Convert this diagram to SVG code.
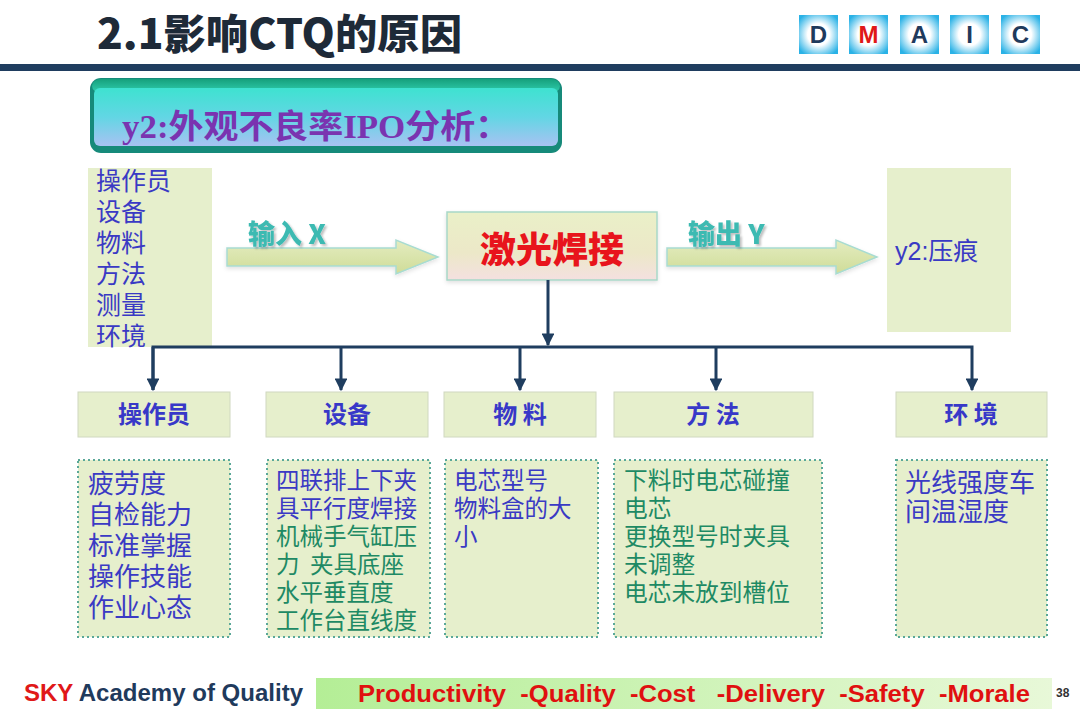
<svg xmlns="http://www.w3.org/2000/svg" width="1080" height="709" viewBox="0 0 1080 709">
<defs>
<style>
.cjk{font-family:"Noto Sans CJK SC","Liberation Sans",sans-serif;}
.blue{fill:#3a3ac4;}
.green{fill:#1e8a64;}
.pale{fill:#e6efcc;}
.cat{fill:#e6efcc;stroke:#d0d8c0;stroke-width:1;}
.det{fill:#e6efcc;stroke:#5aa898;stroke-width:2;stroke-dasharray:2 3;}
.catt{font-family:"Noto Sans CJK SC",sans-serif;font-weight:bold;font-size:24px;fill:#3838c8;text-anchor:middle;}
.dm{font-family:"Liberation Sans",Arial,sans-serif;font-weight:bold;font-size:24px;fill:#1f3a5c;text-anchor:middle;}
.conn{stroke:#1f3d5f;stroke-width:3;fill:none;}
.arrowtxt{font-family:"Noto Sans CJK SC","Liberation Sans",sans-serif;font-weight:900;font-size:27px;fill:#3cbab2;}
</style>
<radialGradient id="dmg" cx="0.5" cy="0.5" r="0.62">
<stop offset="0.45" stop-color="#ffffff"/>
<stop offset="1" stop-color="#2ab2e6"/>
</radialGradient>
<linearGradient id="hdr" x1="0" y1="0" x2="0" y2="1">
<stop offset="0" stop-color="#3ee2d0"/>
<stop offset="0.5" stop-color="#62d6e4"/>
<stop offset="1" stop-color="#a8c2f2"/>
</linearGradient>
<linearGradient id="hdrTop" x1="0" y1="0" x2="0" y2="1">
<stop offset="0" stop-color="#16a07c"/>
<stop offset="1" stop-color="#30d0b0"/>
</linearGradient>
<linearGradient id="arr" x1="0" y1="0" x2="0" y2="1">
<stop offset="0" stop-color="#e4ecc0"/>
<stop offset="1" stop-color="#cfdc98"/>
</linearGradient>
<linearGradient id="ctr" x1="0" y1="0" x2="0" y2="1">
<stop offset="0" stop-color="#eaf0c8"/>
<stop offset="0.6" stop-color="#ece8c8"/>
<stop offset="1" stop-color="#f4e0e0"/>
</linearGradient>
<linearGradient id="foot" x1="0" y1="0" x2="1" y2="0">
<stop offset="0" stop-color="#b4ee96"/>
<stop offset="1" stop-color="#e8f8d8"/>
</linearGradient>
<filter id="sh" x="-10%" y="-20%" width="130%" height="150%">
<feDropShadow dx="2" dy="2" stdDeviation="1.2" flood-color="#000" flood-opacity="0.25"/>
</filter>
<filter id="soft" x="-5%" y="-10%" width="110%" height="125%">
<feDropShadow dx="0" dy="2" stdDeviation="2" flood-color="#000" flood-opacity="0.12"/>
</filter>
<marker id="ah" viewBox="0 0 10 10" refX="9" refY="5" markerWidth="4.3" markerHeight="4.3" orient="auto" markerUnits="strokeWidth">
<path d="M0,0 L10,5 L0,10 z" fill="#1f3d5f"/>
</marker>
</defs>

<rect width="1080" height="709" fill="#ffffff"/>

<g id="title">
<text x="97" y="49" class="cjk" font-weight="900" font-size="41" fill="#1e2a38" textLength="365" lengthAdjust="spacingAndGlyphs">2.1影响CTQ的原因</text>
<rect x="0" y="64" width="1080" height="7" fill="#1f3d5f"/>
</g>

<g id="dmaic">
<rect x="799" y="15" width="39" height="39" fill="url(#dmg)"/>
<rect x="849" y="15" width="39" height="39" fill="url(#dmg)"/>
<rect x="900" y="15" width="39" height="39" fill="url(#dmg)"/>
<rect x="950" y="15" width="39" height="39" fill="url(#dmg)"/>
<rect x="1001" y="15" width="39" height="39" fill="url(#dmg)"/>
<text x="818.5" y="43" class="dm">D</text>
<text x="868.5" y="43" class="dm" style="fill:#e01818">M</text>
<text x="919.5" y="43" class="dm">A</text>
<text x="969.5" y="43" class="dm">I</text>
<text x="1020.5" y="43" class="dm">C</text>
</g>

<g id="header">
<rect x="90" y="78" width="472" height="75" rx="11" fill="#168a7a"/>
<rect x="92" y="79" width="468" height="14" rx="9" fill="url(#hdrTop)"/>
<rect x="94" y="88" width="464" height="58" rx="6" fill="url(#hdr)"/>
<text x="122" y="138" font-family="'Liberation Serif','Noto Sans CJK SC',serif" font-weight="bold" font-size="33" fill="#7a34b0" textLength="388" lengthAdjust="spacingAndGlyphs">y2:外观不良率IPO分析：</text>
</g>

<g id="inputs">
<rect x="88" y="168" width="124" height="179" class="pale"/>
<text class="cjk blue" font-size="25">
<tspan x="96" y="190">操作员</tspan>
<tspan x="96" y="221">设备</tspan>
<tspan x="96" y="252">物料</tspan>
<tspan x="96" y="283">方法</tspan>
<tspan x="96" y="314">测量</tspan>
<tspan x="96" y="345">环境</tspan>
</text>
</g>

<g id="arrow-in">
<path d="M227,248 L396,248 L396,240 L438,257 L396,274 L396,266 L227,266 Z" fill="url(#arr)" stroke="#a8dcd2" stroke-width="1.5" filter="url(#soft)"/>
<text x="248" y="244" class="arrowtxt" filter="url(#sh)">输入 X</text>
</g>

<g id="process">
<rect x="447" y="212" width="210" height="68" fill="url(#ctr)" stroke="#a8d8c8" stroke-width="1.5" filter="url(#soft)"/>
<text x="552" y="263" text-anchor="middle" class="cjk" font-weight="900" font-size="36" fill="#e8141c">激光焊接</text>
</g>

<g id="arrow-out">
<path d="M667,248 L836,248 L836,240 L877,257 L836,274 L836,266 L667,266 Z" fill="url(#arr)" stroke="#a8dcd2" stroke-width="1.5" filter="url(#soft)"/>
<text x="688" y="244" class="arrowtxt" filter="url(#sh)">输出 Y</text>
</g>

<g id="output">
<rect x="887" y="168" width="124" height="164" class="pale"/>
<text x="895" y="260" class="blue" font-family="'Liberation Sans','Noto Sans CJK SC',sans-serif" font-size="25">y2:压痕</text>
</g>

<g id="connectors">
<line x1="548" y1="280" x2="548" y2="345" class="conn" marker-end="url(#ah)"/>
<polyline points="153,390 153,347 972,347 972,390" class="conn" marker-end="url(#ah)"/>
<line x1="153" y1="347" x2="153" y2="390" class="conn" marker-end="url(#ah)"/>
<line x1="341" y1="347" x2="341" y2="390" class="conn" marker-end="url(#ah)"/>
<line x1="520" y1="347" x2="520" y2="390" class="conn" marker-end="url(#ah)"/>
<line x1="716" y1="347" x2="716" y2="390" class="conn" marker-end="url(#ah)"/>
</g>

<g id="cat-operator">
<rect x="78" y="392" width="152" height="45" class="cat"/>
<text x="154" y="423" class="catt">操作员</text>
</g>
<g id="cat-equipment">
<rect x="266" y="392" width="162" height="45" class="cat"/>
<text x="347" y="423" class="catt">设备</text>
</g>
<g id="cat-material">
<rect x="444" y="392" width="152" height="45" class="cat"/>
<text x="520" y="423" class="catt">物 料</text>
</g>
<g id="cat-method">
<rect x="614" y="392" width="199" height="45" class="cat"/>
<text x="713" y="423" class="catt">方 法</text>
</g>
<g id="cat-environment">
<rect x="896" y="392" width="151" height="45" class="cat"/>
<text x="971" y="423" class="catt">环 境</text>
</g>

<g id="det-operator">
<rect x="78" y="460" width="152" height="177" class="det"/>
<text class="cjk blue" font-size="26">
<tspan x="88" y="493">疲劳度</tspan>
<tspan x="88" y="524">自检能力</tspan>
<tspan x="88" y="555">标准掌握</tspan>
<tspan x="88" y="586">操作技能</tspan>
<tspan x="88" y="617">作业心态</tspan>
</text>
</g>
<g id="det-equipment">
<rect x="267" y="460" width="163" height="177" class="det"/>
<text class="cjk" font-size="23.5">
<tspan x="276" y="489" class="blue">四联排上下夹</tspan>
<tspan x="276" y="517" class="blue">具平行度焊接</tspan>
<tspan x="276" y="545" class="green">机械手气缸压</tspan>
<tspan x="276" y="573" class="green">力&#160;&#160;夹具底座</tspan>
<tspan x="276" y="601" class="green">水平垂直度</tspan>
<tspan x="276" y="629" class="green">工作台直线度</tspan>
</text>
</g>
<g id="det-material">
<rect x="445" y="460" width="153" height="177" class="det"/>
<text class="cjk blue" font-size="23.5">
<tspan x="454" y="489">电芯型号</tspan>
<tspan x="454" y="517">物料盒的大</tspan>
<tspan x="454" y="545">小</tspan>
</text>
</g>
<g id="det-method">
<rect x="614" y="460" width="208" height="177" class="det"/>
<text class="cjk green" font-size="23.7">
<tspan x="624" y="489">下料时电芯碰撞</tspan>
<tspan x="624" y="517">电芯</tspan>
<tspan x="624" y="545">更换型号时夹具</tspan>
<tspan x="624" y="573">未调整</tspan>
<tspan x="624" y="601">电芯未放到槽位</tspan>
</text>
</g>
<g id="det-environment">
<rect x="896" y="460" width="151" height="177" class="det"/>
<text class="cjk blue" font-size="26">
<tspan x="905" y="492">光线强度车</tspan>
<tspan x="905" y="521">间温湿度</tspan>
</text>
</g>

<g id="footer">
<rect x="316" y="678" width="736" height="31" fill="url(#foot)"/>
<text x="24" y="701" font-family="'Liberation Sans',Arial,sans-serif" font-weight="bold" font-size="23" textLength="279" lengthAdjust="spacingAndGlyphs"><tspan fill="#e01818">SKY</tspan><tspan fill="#1f3a5c"> Academy of Quality</tspan></text>
<text x="358" y="702" font-family="'Liberation Sans',Arial,sans-serif" font-weight="bold" font-size="24" fill="#e01010" textLength="672" lengthAdjust="spacingAndGlyphs" xml:space="preserve">Productivity  -Quality  -Cost   -Delivery  -Safety  -Morale</text>
<text x="1056" y="697" font-family="'Liberation Sans',Arial,sans-serif" font-weight="bold" font-size="12" fill="#333">38</text>
</g>
</svg>
